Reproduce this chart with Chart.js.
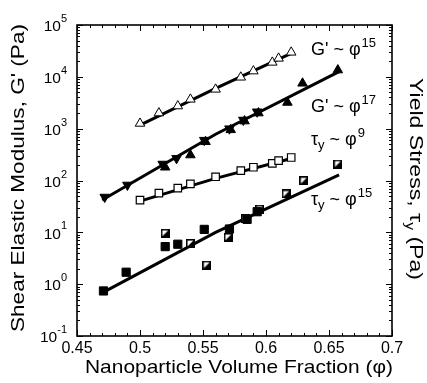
<!DOCTYPE html>
<html><head><meta charset="utf-8">
<script src="https://cdn.jsdelivr.net/npm/chart.js@4"></script>
<style>html,body{margin:0;padding:0;background:#fff}</style>
</head><body>
<canvas id="c" width="427" height="383"></canvas>
<script>
// ---- axis ticks ----
const xTicks = [0.45, 0.5, 0.55, 0.6, 0.65, 0.7];
const xTickLabels = ['0.45', '0.5', '0.55', '0.6', '0.65', '0.7'];
const yTicks = [0.1, 1, 10, 100, 1000, 10000, 100000];
const yTickExps = ['-1', '0', '1', '2', '3', '4', '5'];

// ---- G' (open triangles) ----
const gOpenX = [0.50, 0.515, 0.53, 0.54, 0.56, 0.58, 0.59, 0.605, 0.61, 0.62];
const gOpenY = [1260, 2000, 2730, 3680, 5740, 9800, 12900, 19000, 22700, 29700];
// ---- G' (filled down triangles) ----
const gDownX = [0.472, 0.49, 0.518, 0.529, 0.551, 0.571, 0.582, 0.593];
const gDownY = [48, 82, 208, 268, 600, 1000, 1470, 2120];
// ---- G' (filled up triangles) ----
const gUpX = [0.52, 0.54, 0.552, 0.572, 0.583, 0.594, 0.617, 0.629, 0.657];
const gUpY = [180, 310, 560, 950, 1400, 2000, 3200, 7500, 13500];
// ---- tau_y (open squares) ----
const tOpenX = [0.50, 0.515, 0.53, 0.54, 0.56, 0.58, 0.59, 0.605, 0.61, 0.62];
const tOpenY = [42, 57, 71, 86, 118, 155, 180, 214, 241, 278];
// ---- tau_y (filled squares) ----
const tFillX = [0.471, 0.489, 0.52, 0.530, 0.551, 0.571, 0.585, 0.593];
const tFillY = [0.74, 1.7, 5.3, 5.9, 11.4, 11.6, 17.8, 25];
// ---- tau_y (half-filled squares) ----
const tHalfX = [0.52, 0.54, 0.553, 0.570, 0.584, 0.595, 0.616, 0.63, 0.657];
const tHalfY = [9.6, 6.1, 2.33, 8.0, 18.6, 28, 55, 99, 208];

// ---- fit lines ----
const fitG15X = [0.50, 0.56, 0.62];
const fitG15Y = [1170, 6000, 28400];
const fitG17X = [0.47, 0.56, 0.658];
const fitG17Y = [42, 780, 12600];
const fitT9X = [0.50, 0.56, 0.62];
const fitT9Y = [40, 110, 265];
const fitT15X = [0.47, 0.56, 0.658];
const fitT15Y = [0.68, 10, 128];

// ---- annotation labels ----
const annBase = ["G' ~ \u03C6", "G' ~ \u03C6", "\u03C4", "\u03C4"];
const annSub = ['', '', 'y', 'y'];
const annMid = ['', '', ' ~ \u03C6', ' ~ \u03C6'];
const annExp = ['15', '17', '9', '15'];

const FONT = '"Liberation Sans", Arial, sans-serif';
const pts = (xs, ys) => xs.map((v, i) => ({x: v, y: ys[i]}));

function halfSquare(s) {
  const c = document.createElement('canvas'); c.width = s; c.height = s;
  const g = c.getContext('2d');
  g.fillStyle = '#fff'; g.fillRect(0, 0, s, s);
  g.fillStyle = '#000'; g.beginPath(); g.moveTo(s, 0); g.lineTo(s, s); g.lineTo(0, s); g.closePath(); g.fill();
  g.strokeStyle = '#000'; g.lineWidth = 1.6; g.strokeRect(0.8, 0.8, s - 1.6, s - 1.6);
  return c;
}

const fitDs = (xs, ys) => ({type: 'line', data: pts(xs, ys), showLine: true, borderColor: '#000',
  borderWidth: 3, pointRadius: 0, fill: false, order: 10, tension: 0});

// draw a run of [text, fontPx, dy] pieces, horizontally scaled to a target width, centred at 0
function drawRun(ctx, pieces, target) {
  let total = 0;
  pieces.forEach(p => { ctx.font = p[1] + 'px ' + FONT; p.w = ctx.measureText(p[0]).width; total += p.w; });
  const s = target / total;
  ctx.scale(s, 1);
  let sx = -total / 2;
  ctx.textAlign = 'left'; ctx.textBaseline = 'alphabetic';
  pieces.forEach(p => { ctx.font = p[1] + 'px ' + FONT; ctx.fillText(p[0], sx, p[2]); sx += p.w; });
}

const deco = {
  id: 'deco',
  afterDraw(chart) {
    const {ctx, chartArea: a, scales: {x, y}} = chart;
    ctx.save();
    ctx.strokeStyle = '#000'; ctx.fillStyle = '#000';
    ctx.lineWidth = 1.6;
    ctx.strokeRect(a.left, a.top, a.right - a.left, a.bottom - a.top);
    ctx.lineWidth = 1;
    const ln = (x1, y1, x2, y2) => { ctx.beginPath(); ctx.moveTo(x1, y1); ctx.lineTo(x2, y2); ctx.stroke(); };
    // x ticks (major + minor, inward, top & bottom)
    const xStep = (xTicks[1] - xTicks[0]) / 5;
    for (let i = 0; i <= (xTicks.length - 1) * 5; i++) {
      const v = xTicks[0] + i * xStep;
      const px = Math.round(x.getPixelForValue(v)) + 0.5;
      const L = (i % 5 === 0) ? 6 : 3;
      ln(px, a.bottom, px, a.bottom - L); ln(px, a.top, px, a.top + L);
    }
    // y ticks
    for (let d = 0; d < yTicks.length; d++) {
      const base = yTicks[d];
      const py = Math.round(y.getPixelForValue(base)) + 0.5;
      ln(a.left, py, a.left + 6, py); ln(a.right, py, a.right - 6, py);
      if (d < yTicks.length - 1) {
        for (let k = 2; k <= 9; k++) {
          const pm = Math.round(y.getPixelForValue(base * k)) + 0.5;
          ln(a.left, pm, a.left + 3, pm); ln(a.right, pm, a.right - 3, pm);
        }
      }
    }
    // x tick labels
    ctx.font = '16px ' + FONT; ctx.textAlign = 'center'; ctx.textBaseline = 'middle';
    xTicks.forEach((v, i) => ctx.fillText(xTickLabels[i], x.getPixelForValue(v), 349));
    // y tick labels 10^n
    yTicks.forEach((v, i) => {
      const py = y.getPixelForValue(v);
      ctx.font = '11px ' + FONT; const we = ctx.measureText(yTickExps[i]).width;
      ctx.font = '15.5px ' + FONT; const wb = ctx.measureText('10').width;
      const right = 67;
      ctx.textAlign = 'left'; ctx.textBaseline = 'middle';
      ctx.fillText('10', right - we - wb, py + 2);
      ctx.font = '11px ' + FONT;
      ctx.fillText(yTickExps[i], right - we, py - 6);
    });
    // x axis title
    ctx.save(); ctx.translate(239, 373);
    drawRun(ctx, [['Nanoparticle Volume Fraction (\u03C6)', 19, 0]], 308);
    ctx.restore();
    // left axis title
    ctx.save(); ctx.translate(24, 178); ctx.rotate(-Math.PI / 2);
    drawRun(ctx, [["Shear Elastic Modulus, G' (Pa)", 19, 0]], 308);
    ctx.restore();
    // right axis title with subscript
    ctx.save(); ctx.translate(410, 179); ctx.rotate(Math.PI / 2);
    drawRun(ctx, [['Yield Stress, \u03C4', 19, 0], ['y', 13, 4], [' (Pa)', 19, 0]], 202);
    ctx.restore();
    // annotations
    const annY = [55, 112, 145, 205];
    ctx.textAlign = 'left'; ctx.textBaseline = 'alphabetic';
    annBase.forEach((t, i) => {
      let sx = 311; const by = annY[i];
      ctx.font = '18px ' + FONT; ctx.fillText(t, sx, by); sx += ctx.measureText(t).width;
      if (annSub[i]) { ctx.font = '13px ' + FONT; ctx.fillText(annSub[i], sx, by + 4); sx += ctx.measureText(annSub[i]).width; }
      if (annMid[i]) { ctx.font = '18px ' + FONT; ctx.fillText(annMid[i], sx, by); sx += ctx.measureText(annMid[i]).width; }
      ctx.font = '13px ' + FONT; ctx.fillText(annExp[i], sx + 1, by - 8);
    });
    ctx.restore();
  }
};

new Chart(document.getElementById('c'), {
  type: 'scatter',
  data: {datasets: [
    {data: pts(gOpenX, gOpenY), pointStyle: 'triangle', pointRadius: 5.5, backgroundColor: '#fff', borderColor: '#000', borderWidth: 1, order: 1},
    {data: pts(gDownX, gDownY), pointStyle: 'triangle', rotation: 180, pointRadius: 5.5, backgroundColor: '#000', borderColor: '#000', borderWidth: 1, order: 1},
    {data: pts(gUpX, gUpY), pointStyle: 'triangle', pointRadius: 5.5, backgroundColor: '#000', borderColor: '#000', borderWidth: 1, order: 1},
    {data: pts(tOpenX, tOpenY), pointStyle: 'rect', pointRadius: 5.3, backgroundColor: '#fff', borderColor: '#000', borderWidth: 1.2, order: 1},
    {data: pts(tFillX, tFillY), pointStyle: 'rect', pointRadius: 5.8, backgroundColor: '#000', borderColor: '#000', borderWidth: 1, order: 1},
    {data: pts(tHalfX, tHalfY), pointStyle: halfSquare(9), pointRadius: 5, order: 1},
    fitDs(fitG15X, fitG15Y), fitDs(fitG17X, fitG17Y), fitDs(fitT9X, fitT9Y), fitDs(fitT15X, fitT15Y)
  ]},
  options: {
    responsive: false, animation: false, devicePixelRatio: 1,
    layout: {padding: {top: 25, right: 35, left: 0, bottom: 0}},
    plugins: {legend: {display: false}, tooltip: {enabled: false}},
    scales: {
      x: {type: 'linear', min: 0.45, max: 0.7, grid: {display: false, drawTicks: false}, border: {display: false},
          ticks: {display: false}, afterFit: s => { s.height = 47; }},
      y: {type: 'logarithmic', min: 0.1, max: 100000, grid: {display: false, drawTicks: false}, border: {display: false},
          ticks: {display: false}, afterFit: s => { s.width = 77; }}
    }
  },
  plugins: [deco]
});
</script>
</body></html>
